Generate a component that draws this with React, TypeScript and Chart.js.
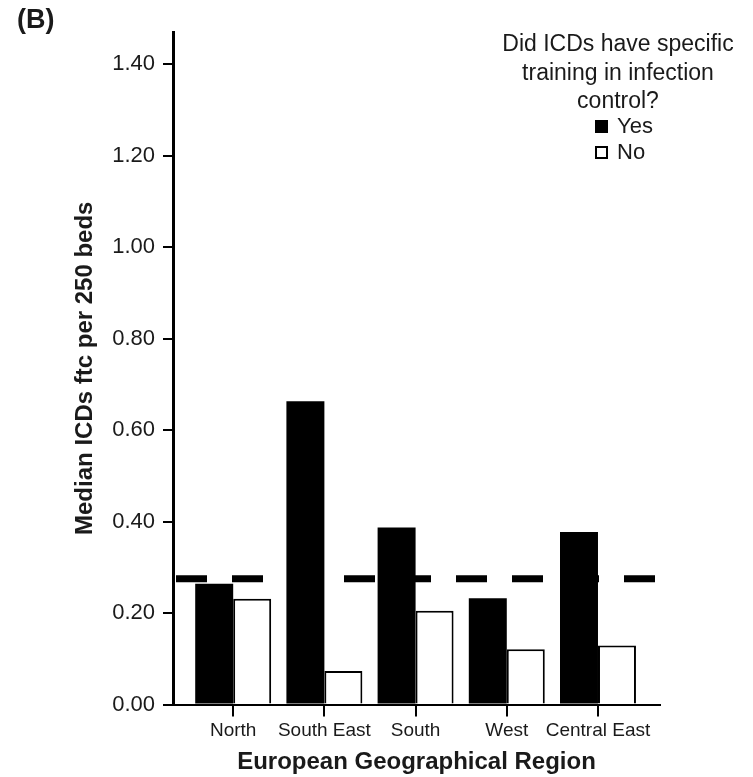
import React, { useEffect, useRef } from "react";
import { Chart, registerables } from "chart.js";

Chart.register(...registerables);

const categories = ["North", "South East", "South", "West", "Central East"];
const yesValues = [0.264, 0.663, 0.387, 0.232, 0.377];
const noValues = [0.231, 0.073, 0.205, 0.121, 0.129];
const overallMedian = 0.275;
const yTickValues = [0, 0.2, 0.4, 0.6, 0.8, 1.0, 1.2, 1.4];
const seriesLabels = ["Yes", "No"];
const legendTitleLines = ["Did ICDs have specific", "training in infection", "control?"];
const panelLabel = "(B)";
const xTitle = "European Geographical Region";
const yTitle = "Median ICDs ftc per 250 beds";

const X_MIN = -0.66;
const X_MAX = 4.68;
const Y_MAX = 1.47;

const FONT = "'Liberation Sans', Arial, Helvetica, sans-serif";
const INK = "#1a1a1a";

const overlayPlugin = {
  id: "overlayText",
  afterDraw(chart: any) {
    const ctx = chart.ctx as CanvasRenderingContext2D;
    ctx.save();
    ctx.fillStyle = INK;
    ctx.textBaseline = "alphabetic";

    // panel label
    ctx.font = `bold 27px ${FONT}`;
    ctx.textAlign = "left";
    ctx.fillText(panelLabel, 17, 28);

    // legend title
    ctx.font = `23px ${FONT}`;
    ctx.textAlign = "center";
    legendTitleLines.forEach((line, i) => {
      ctx.fillText(line, 618, 51 + i * 28.5);
    });

    // legend entries
    const ds = chart.data.datasets;
    const rows = [
      { y: 120, label: seriesLabels[0], fill: ds[0].backgroundColor },
      { y: 146, label: seriesLabels[1], fill: ds[1].backgroundColor },
    ];
    rows.forEach((r) => {
      ctx.fillStyle = r.fill;
      ctx.fillRect(595, r.y, 13, 13);
      ctx.strokeStyle = "#000";
      ctx.lineWidth = 2;
      ctx.strokeRect(596, r.y + 1, 11, 11);
      ctx.fillStyle = INK;
      ctx.font = `22px ${FONT}`;
      ctx.textAlign = "left";
      ctx.fillText(r.label, 617, r.y + 13);
    });
    ctx.restore();
  },
};

export default function App() {
  const canvasRef = useRef<HTMLCanvasElement | null>(null);

  useEffect(() => {
    if (!canvasRef.current) return;
    const chart = new Chart(canvasRef.current, {
      type: "bar",
      data: {
        datasets: [
          {
            type: "bar",
            label: seriesLabels[0],
            data: yesValues.map((y, i) => ({ x: i, y })),
            backgroundColor: "#000000",
            borderColor: "#000000",
            borderWidth: 0,
            categoryPercentage: 0.833,
            barPercentage: 1.0,
            order: 2,
          },
          {
            type: "bar",
            label: seriesLabels[1],
            data: noValues.map((y, i) => ({ x: i, y })),
            backgroundColor: "#ffffff",
            borderColor: "#000000",
            borderWidth: 2,
            categoryPercentage: 0.833,
            barPercentage: 1.0,
            order: 2,
          },
          {
            type: "line",
            label: "Overall median",
            data: [
              { x: X_MIN, y: overallMedian },
              { x: X_MAX, y: overallMedian },
            ],
            borderColor: "#000000",
            borderWidth: 7,
            borderDash: [31, 25],
            borderDashOffset: -3,
            pointRadius: 0,
            fill: false,
            order: 0,
          },
        ] as any,
      },
      options: {
        responsive: false,
        animation: false,
        layout: { padding: { left: 0, right: 93, top: 32, bottom: 0 } },
        plugins: {
          legend: { display: false },
          tooltip: { enabled: false },
        },
        scales: {
          x: {
            type: "linear",
            min: X_MIN,
            max: X_MAX,
            offset: false,
            afterBuildTicks: (s: any) => {
              s.ticks = categories.map((_, i) => ({ value: i }));
            },
            afterFit: (s: any) => {
              s.height = 72.5;
            },
            ticks: {
              callback: (v: any) => categories[Math.round(Number(v))] ?? "",
              font: { family: FONT, size: 19 },
              color: INK,
              padding: 3,
              maxRotation: 0,
              autoSkip: false,
            },
            grid: {
              offset: false,
              drawOnChartArea: false,
              drawTicks: true,
              tickLength: 12,
              color: "#000",
              lineWidth: 2,
            },
            border: { display: true, color: "#000", width: 2 },
            title: {
              display: true,
              text: xTitle,
              font: { family: FONT, size: 24, weight: "bold" },
              color: INK,
              padding: { top: 0, bottom: 0 },
            },
          },
          y: {
            type: "linear",
            min: 0,
            max: Y_MAX,
            afterBuildTicks: (s: any) => {
              s.ticks = yTickValues.map((v) => ({ value: v }));
            },
            afterFit: (s: any) => {
              s.width = 173;
            },
            ticks: {
              callback: (v: any) => Number(v).toFixed(2),
              font: { family: FONT, size: 22 },
              color: INK,
              padding: 8,
            },
            grid: {
              drawOnChartArea: false,
              drawTicks: true,
              tickLength: 10,
              color: "#000",
              lineWidth: 2,
            },
            border: { display: true, color: "#000", width: 3 },
            title: {
              display: true,
              text: yTitle,
              font: { family: FONT, size: 24, weight: "bold" },
              color: INK,
              padding: { top: 71, bottom: 0 },
            },
          },
        },
      } as any,
      plugins: [overlayPlugin],
    });
    return () => chart.destroy();
  }, []);

  return (
    <div style={{ position: "fixed", left: 0, top: 0, width: 753, height: 777, background: "#fff" }}>
      <canvas ref={canvasRef} width={753} height={777} style={{ width: 753, height: 777, display: "block" }} />
    </div>
  );
}
